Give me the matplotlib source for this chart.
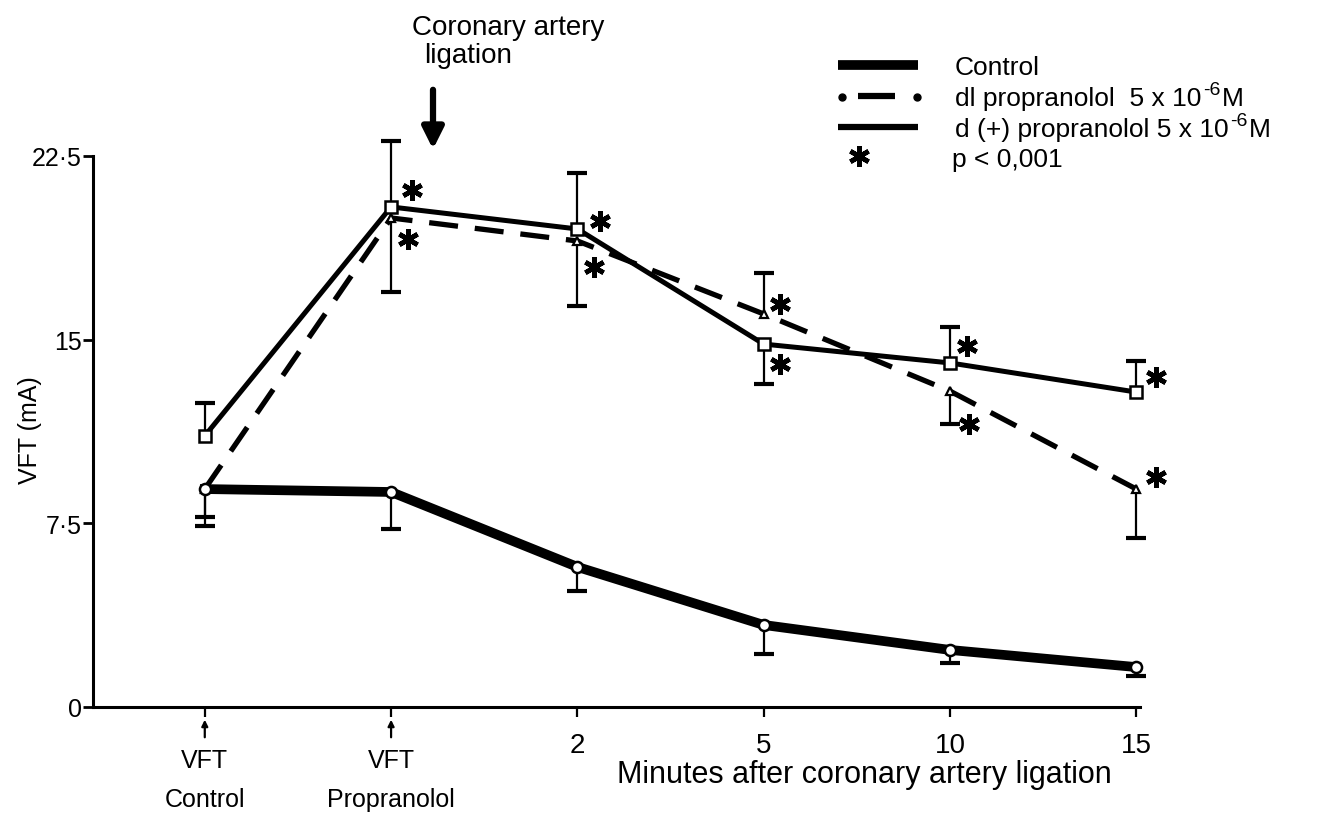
import matplotlib
matplotlib.use("Agg")
import matplotlib.pyplot as plt
from matplotlib.lines import Line2D
from matplotlib.text import Annotation
from matplotlib.transforms import offset_copy
import numpy as np

plt.rcParams['font.family'] = ['Liberation Sans', 'DejaVu Sans']

# ---------------- data ----------------
categories = ["VFT\nControl", "VFT\nPropranolol", "2", "5", "10", "15"]
yticks = [0, 7.5, 15, 22.5]
ytick_labels = ["0", "7·5", "15", "22·5"]

control = [8.90, 8.78, 5.72, 3.35, 2.33, 1.63]
control_err_low = [1.14, 1.51, 0.98, 1.19, 0.53, 0.36]
control_err_high = [0, 0, 0, 0, 0, 0]

dplus = [11.07, 20.42, 19.52, 14.82, 14.05, 12.86]
dplus_err_low = [0, 0, 0, 1.63, 0, 0]
dplus_err_high = [1.34, 2.69, 2.28, 0, 1.47, 1.27]

dl = [8.90, 19.97, 19.03, 16.05, 12.90, 8.90]
dl_err_low = [1.51, 3.02, 2.66, 0, 1.34, 2.0]
dl_err_high = [0, 0, 0, 1.67, 0, 0]

# indices carrying a significance star
stars_dplus = [1, 2, 3, 4, 5]
stars_dl = [1, 2, 3, 4, 5]

# ---------------- figure ----------------
W, H = 1331, 820
fig = plt.figure(figsize=(W / 100, H / 100), dpi=100)
ax = fig.add_axes([93 / W, 1 - 708 / H, (1140 - 93) / W, (708 - 157) / H])
x = np.arange(len(categories))

ax.set_xlim(-0.6, 5.02)
ax.set_ylim(0, 22.5)


def draw_err(vals, lo, hi):
    for xi, v, l, h in zip(x, vals, lo, hi):
        for e in (-l, h):
            if e:
                ax.plot([xi, xi], [v, v + e], color='black', lw=1.6,
                        clip_on=False, zorder=2, solid_capstyle='butt')
                ax.plot([xi], [v + e], marker='_', ms=14, mew=3,
                        color='black', clip_on=False, zorder=2)


draw_err(control, control_err_low, control_err_high)
draw_err(dplus, dplus_err_low, dplus_err_high)
draw_err(dl, dl_err_low, dl_err_high)

ax.plot(x, dl, color='black', lw=3.8, linestyle=(0, (5.5, 3.2)),
        marker='^', ms=6, mfc='white', mec='black', mew=1.6,
        clip_on=False, zorder=3)
ax.plot(x, dplus, color='black', lw=3.6,
        marker='s', ms=8, mfc='white', mec='black', mew=1.8,
        clip_on=False, zorder=4)
ax.plot(x, control, color='black', lw=7, solid_joinstyle='round',
        marker='o', ms=8, mfc='white', mec='black', mew=1.8,
        clip_on=False, zorder=5)

STAR = (6, 2, 0)
# asterisks (offsets in points)
dplus_off = {1: (15, 12), 2: (16, 6), 3: (12, -14), 4: (12, 12), 5: (14, 11)}
dl_off = {1: (12, -15), 2: (12, -19), 3: (12, 7), 4: (14, -24), 5: (14, 9)}
for vals, idxs, offs in ((dplus, stars_dplus, dplus_off), (dl, stars_dl, dl_off)):
    for i in idxs:
        t = offset_copy(ax.transData, fig=fig, x=offs[i][0], y=offs[i][1],
                        units='points')
        ax.plot([x[i]], [vals[i]], marker=STAR, ms=15, mew=3.4,
                color='black', transform=t, clip_on=False, zorder=6)

# axes style
for s in ('top', 'right'):
    ax.spines[s].set_visible(False)
for s in ('left', 'bottom'):
    ax.spines[s].set_linewidth(2.2)
ax.set_yticks(yticks)
ax.set_yticklabels(ytick_labels, fontsize=18)
ax.set_xticks(x)
ax.set_xticklabels(["", ""] + categories[2:], fontsize=20)
ax.tick_params(axis='y', direction='out', length=7, width=2, pad=1)
ax.tick_params(axis='x', direction='out', length=7, width=1.6, pad=11)

tr = ax.get_xaxis_transform()
for i in (0, 1):
    ax.annotate("", xy=(x[i], -0.018), xycoords=tr,
                xytext=(x[i], -0.06), textcoords=tr,
                arrowprops=dict(arrowstyle='-|>', lw=1.6, color='black',
                                mutation_scale=9), annotation_clip=False)
    ax.text(x[i], -0.075, categories[i], transform=tr, ha='center', va='top',
            fontsize=18, linespacing=1.75)

ax.text(0.737, -0.122, "Minutes after coronary artery ligation",
        transform=ax.transAxes, ha='center', va='center', fontsize=22)
fig.text(30 / W, 1 - 430 / H, "VFT (mA)", rotation=90, ha='center',
         va='center', fontsize=18)

# coronary artery ligation annotation
fig.text(508 / W, 1 - 28 / H, "Coronary artery", ha='center', va='center',
         fontsize=20)
fig.text(424 / W, 1 - 56 / H, "ligation", ha='left', va='center', fontsize=20)
fig.add_artist(matplotlib.patches.FancyArrowPatch(
    (433 / W, 1 - 88 / H), (433 / W, 1 - 153 / H),
    transform=fig.transFigure, arrowstyle='-|>', mutation_scale=32,
    lw=4.5, color='black'))


# legend (manual)
def fx(px):
    return px / W


def fy(py):
    return 1 - py / H


LFS = 19
fig.add_artist(Line2D([fx(838), fx(918)], [fy(66), fy(66)], lw=7,
                      color='black', solid_capstyle='butt'))
fig.add_artist(Line2D([fx(858), fx(895)], [fy(97), fy(97)], lw=4.5,
                      color='black', solid_capstyle='butt'))
fig.add_artist(Line2D([fx(842), fx(917)], [fy(98), fy(98)], lw=0,
                      marker='o', ms=5, color='black', linestyle='none'))
fig.add_artist(Line2D([fx(838), fx(918)], [fy(128), fy(128)], lw=4.5,
                      color='black', solid_capstyle='butt'))
fig.add_artist(Line2D([fx(859)], [fy(157)], marker=STAR, ms=15, mew=3.4,
                      color='black', linestyle='none'))
fig.text(fx(955), fy(75), "Control", ha='left', va='baseline', fontsize=LFS)


def sup_label(ypx, main):
    t1 = fig.text(fx(955), fy(ypx), main, ha='left', va='baseline',
                  fontsize=LFS)
    a2 = Annotation("-6", xy=(1.0, fy(ypx)), xycoords=(t1, fig.transFigure),
                    xytext=(1, 8), textcoords='offset points', fontsize=14,
                    ha='left', va='baseline')
    fig.add_artist(a2)
    a3 = Annotation("M", xy=(1.0, fy(ypx)), xycoords=(a2, fig.transFigure),
                    xytext=(1, 0), textcoords='offset points', fontsize=LFS,
                    ha='left', va='baseline')
    fig.add_artist(a3)


sup_label(106, "dl propranolol  5 x 10")
sup_label(137, "d (+) propranolol 5 x 10")
fig.text(fx(952), fy(167), "p < 0,001", ha='left', va='baseline', fontsize=LFS)

fig.savefig("out.png", dpi=100)
